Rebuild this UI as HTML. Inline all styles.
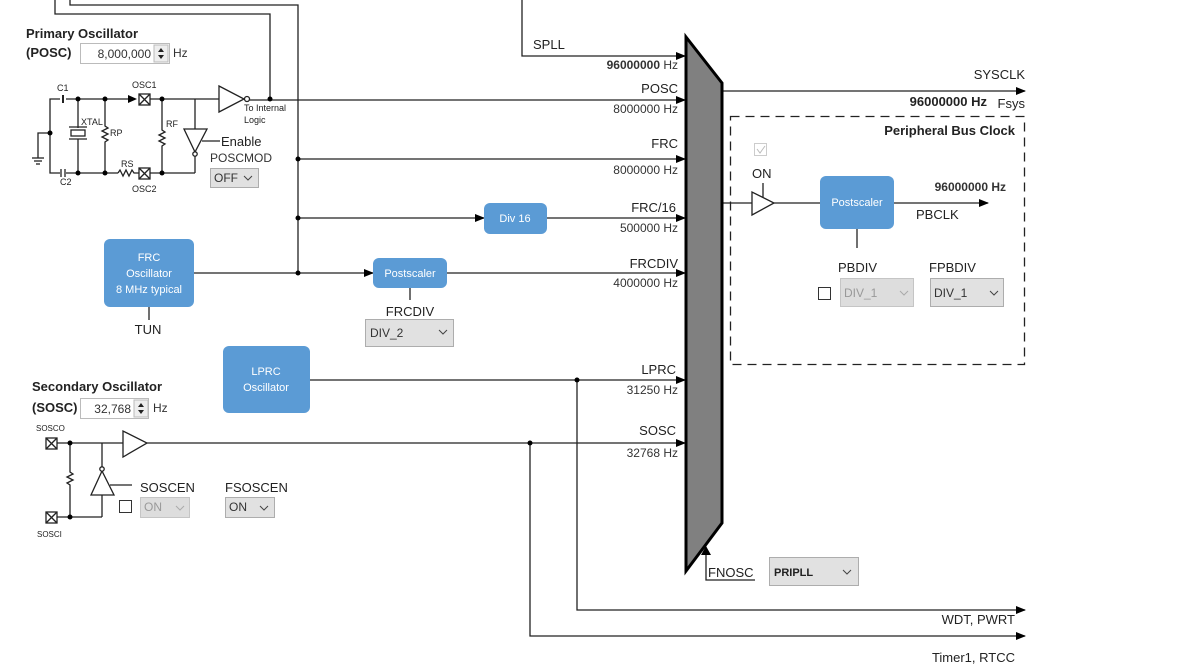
<!DOCTYPE html>
<html><head><meta charset="utf-8"><style>
html,body{margin:0;padding:0;background:#fff;}
svg{display:block;font-family:"Liberation Sans",sans-serif;}
.t{font-size:13px;fill:#222;}
.s{font-size:12px;fill:#333;}
.xs{font-size:9px;fill:#222;}
.b{font-weight:bold;}
.w{fill:#fff;font-size:11px;}
</style></head><body>
<svg width="1200" height="669" viewBox="0 0 1200 669">
<defs>
<marker id="a" markerWidth="10" markerHeight="8" refX="9" refY="4" orient="auto" markerUnits="userSpaceOnUse"><path d="M0,0 L10,4 L0,8z" fill="#000"/></marker>
</defs>
<g stroke="#222" stroke-width="1.3" fill="none">
<!-- top wires -->
<polyline points="55,0 55,14 270,14 270,99"/>
<polyline points="70,0 70,5 298,5 298,273"/>
<polyline points="522,0 522,56 685,56" marker-end="url(#a)"/>
<line x1="246" y1="100" x2="685" y2="100" marker-end="url(#a)"/>
<line x1="298" y1="159" x2="685" y2="159" marker-end="url(#a)"/>
<line x1="298" y1="218" x2="484" y2="218" marker-end="url(#a)"/>
<line x1="547" y1="218" x2="685" y2="218" marker-end="url(#a)"/>
<line x1="194" y1="273" x2="373" y2="273" marker-end="url(#a)"/>
<line x1="447" y1="273" x2="685" y2="273" marker-end="url(#a)"/>
<line x1="310" y1="380" x2="685" y2="380" marker-end="url(#a)"/>
<line x1="147" y1="443" x2="685" y2="443" marker-end="url(#a)"/>
<polyline points="577,380 577,610 1025,610" marker-end="url(#a)"/>
<polyline points="530,443 530,636 1025,636" marker-end="url(#a)"/>
<line x1="722" y1="91" x2="1025" y2="91" marker-end="url(#a)"/>
<line x1="149" y1="307" x2="149" y2="320"/>
<line x1="410" y1="288" x2="410" y2="300"/>
<polyline points="706,555 706,580 755,580"/>
<!-- primary osc circuit -->
<polyline points="60,99 50,99 50,173 60,173"/>
<line x1="66" y1="99" x2="132" y2="99"/>
<line x1="66" y1="173" x2="118" y2="173"/>
<polyline points="50,133 38,133 38,158"/>
<line x1="32" y1="158" x2="44" y2="158"/><line x1="34" y1="161" x2="42" y2="161"/><line x1="36" y1="164" x2="40" y2="164"/>
<line x1="78" y1="99" x2="78" y2="128"/><line x1="78" y1="139" x2="78" y2="173"/>
<rect x="71" y="130" width="14" height="6"/>
<line x1="69" y1="127" x2="87" y2="127"/><line x1="69" y1="139" x2="87" y2="139"/>
<polyline points="105,99 105,126 108,128 102,131 108,134 102,137 108,140 105,142 105,173"/>
<polyline points="118,173 120,170 123,176 126,170 129,176 132,170 134,173 139,173"/>
<line x1="150" y1="99" x2="219" y2="99"/>
<line x1="150" y1="173" x2="195" y2="173"/>
<polyline points="162,99 162,130 165,132 159,135 165,138 159,141 165,144 162,146 162,173"/>
<line x1="195" y1="99" x2="195" y2="129"/><line x1="195" y1="156" x2="195" y2="173"/>
<polygon points="184,129 207,129 195,152"/>
<line x1="202" y1="141" x2="220" y2="141"/>
<polygon points="219,86 219,112 244,99"/>
<circle cx="247" cy="99" r="2.5" fill="#fff"/>
<circle cx="195" cy="154" r="2.2" fill="#fff"/>
<rect x="139" y="94" width="11" height="11"/><line x1="139" y1="94" x2="150" y2="105"/><line x1="150" y1="94" x2="139" y2="105"/>
<rect x="139" y="168" width="11" height="11"/><line x1="139" y1="168" x2="150" y2="179"/><line x1="150" y1="168" x2="139" y2="179"/>
<line x1="63" y1="95" x2="63" y2="103" stroke-width="2"/>
<line x1="61" y1="169" x2="61" y2="177"/><line x1="65" y1="169" x2="65" y2="177"/>
<!-- secondary osc circuit -->
<rect x="46" y="438" width="11" height="11"/><line x1="46" y1="438" x2="57" y2="449"/><line x1="57" y1="438" x2="46" y2="449"/>
<rect x="46" y="512" width="11" height="11"/><line x1="46" y1="512" x2="57" y2="523"/><line x1="57" y1="512" x2="46" y2="523"/>
<line x1="57" y1="443" x2="123" y2="443"/>
<polygon points="123,431 123,457 147,443" fill="#fff"/>
<polyline points="70,443 70,472 73,474 67,477 73,480 67,483 70,485 70,517"/>
<line x1="57" y1="517" x2="102" y2="517"/>
<polyline points="102,443 102,467"/>
<polygon points="102,471 91,495 114,495" fill="#fff"/>
<circle cx="102" cy="469" r="2.2" fill="#fff"/>
<line x1="102" y1="495" x2="102" y2="517"/>
<line x1="110" y1="485" x2="132" y2="485"/>
<!-- PB clock -->
<rect x="730.5" y="116.5" width="294" height="248" stroke-dasharray="9,6"/>
<line x1="722" y1="203" x2="752" y2="203"/>
<polygon points="752,192 752,215 774,203" fill="#fff"/>
<line x1="763" y1="183" x2="763" y2="197"/>
<line x1="774" y1="203" x2="820" y2="203"/>
<line x1="894" y1="203" x2="988" y2="203" marker-end="url(#a)"/>
<line x1="857" y1="229" x2="857" y2="248"/>
</g>
<!-- junctions -->
<g fill="#000">
<circle cx="50" cy="133" r="2.5"/><circle cx="78" cy="99" r="2.5"/><circle cx="105" cy="99" r="2.5"/>
<circle cx="78" cy="173" r="2.5"/><circle cx="105" cy="173" r="2.5"/><circle cx="162" cy="99" r="2.5"/><circle cx="162" cy="173" r="2.5"/>
<circle cx="270" cy="99" r="2.5"/><circle cx="298" cy="159" r="2.5"/><circle cx="298" cy="218" r="2.5"/><circle cx="298" cy="273" r="2.5"/>
<circle cx="577" cy="380" r="2.5"/><circle cx="530" cy="443" r="2.5"/><circle cx="70" cy="443" r="2.5"/><circle cx="70" cy="517" r="2.5"/>
<path d="M128,95 L137,99 L128,103z"/>
<path d="M701,555 L706,546 L711,555z"/>
</g>
<!-- mux -->
<polygon points="686,37 722,83 722,523 686,571" fill="#808080" stroke="#000" stroke-width="3"/>
<!-- blue boxes -->
<g fill="#5b9bd5">
<rect x="104" y="239" width="90" height="68" rx="6"/>
<rect x="373" y="258" width="74" height="30" rx="6"/>
<rect x="484" y="203" width="63" height="31" rx="6"/>
<rect x="223" y="346" width="87" height="67" rx="6"/>
<rect x="820" y="176" width="74" height="53" rx="6"/>
</g>
<g text-anchor="middle" class="w">
<text x="149" y="261" font-size="11" fill="#fff">FRC</text>
<text x="149" y="277" fill="#fff">Oscillator</text>
<text x="149" y="293" fill="#fff">8 MHz typical</text>
<text x="410" y="277" fill="#fff">Postscaler</text>
<text x="515" y="222" fill="#fff">Div 16</text>
<text x="266" y="375" fill="#fff">LPRC</text>
<text x="266" y="391" fill="#fff">Oscillator</text>
<text x="857" y="206" fill="#fff">Postscaler</text>
</g>
<!-- labels -->
<text x="26" y="38" class="t b">Primary Oscillator</text>
<text x="26" y="57" class="t b">(POSC)</text>
<rect x="80.5" y="43.5" width="89" height="20" fill="#fff" stroke="#bbb"/>
<text x="151" y="58" class="s" text-anchor="end">8,000,000</text>
<rect x="154" y="45" width="14" height="17" fill="#eee" stroke="#bbb"/>
<path d="M158,52 L161,48 L164,52z M158,55 L161,59 L164,55z" fill="#222"/>
<text x="173" y="57" class="s">Hz</text>
<text x="57" y="91" class="xs">C1</text>
<text x="132" y="88" class="xs">OSC1</text>
<text x="81" y="125" class="xs">XTAL</text>
<text x="110" y="136" class="xs">RP</text>
<text x="166" y="127" class="xs">RF</text>
<text x="121" y="167" class="xs">RS</text>
<text x="60" y="185" class="xs">C2</text>
<text x="132" y="192" class="xs">OSC2</text>
<text x="244" y="111" class="xs">To Internal</text>
<text x="244" y="123" class="xs">Logic</text>
<text x="221" y="146" class="t" font-size="14">Enable</text>
<text x="210" y="162" class="s">POSCMOD</text>
<rect x="210.5" y="168.5" width="48" height="19" fill="#e1e1e1" stroke="#adadad"/>
<text x="214" y="182" class="s">OFF</text>
<path d="M244,176 L248,180 L252,176" stroke="#444" fill="none"/>
<text x="148" y="334" class="t" text-anchor="middle">TUN</text>
<text x="410" y="316" class="t" text-anchor="middle">FRCDIV</text>
<rect x="365.5" y="319.5" width="88" height="27" fill="#e1e1e1" stroke="#adadad"/>
<text x="370" y="337" class="s">DIV_2</text>
<path d="M439,330 L443,334 L447,330" stroke="#444" fill="none"/>
<text x="32" y="391" class="t b">Secondary Oscillator</text>
<text x="32" y="412" class="t b">(SOSC)</text>
<rect x="80.5" y="398.5" width="68" height="20" fill="#fff" stroke="#bbb"/>
<text x="131" y="413" class="s" text-anchor="end">32,768</text>
<rect x="134" y="400" width="14" height="17" fill="#eee" stroke="#bbb"/>
<path d="M138,407 L141,403 L144,407z M138,410 L141,414 L144,410z" fill="#222"/>
<text x="153" y="412" class="s">Hz</text>
<text x="36" y="431" font-size="8" fill="#222">SOSCO</text>
<text x="37" y="537" font-size="8" fill="#222">SOSCI</text>
<text x="140" y="492" class="t">SOSCEN</text>
<text x="225" y="492" class="t">FSOSCEN</text>
<rect x="119.5" y="500.5" width="12" height="12" fill="#fff" stroke="#333"/>
<rect x="140.5" y="497.5" width="49" height="20" fill="#ddd" stroke="#c5c5c5"/>
<text x="144" y="511" class="s" fill="#999" style="fill:#999">ON</text>
<path d="M176,506 L180,510 L184,506" stroke="#aaa" fill="none"/>
<rect x="225.5" y="497.5" width="49" height="20" fill="#e1e1e1" stroke="#adadad"/>
<text x="229" y="511" class="s">ON</text>
<path d="M260,506 L264,510 L268,506" stroke="#444" fill="none"/>
<!-- mux input labels -->
<text x="533" y="49" class="t">SPLL</text>
<g text-anchor="end">
<text x="678" y="69" class="s"><tspan font-weight="bold">96000000</tspan> Hz</text>
<text x="678" y="93" class="t">POSC</text>
<text x="678" y="113" class="s">8000000 Hz</text>
<text x="678" y="148" class="t">FRC</text>
<text x="678" y="174" class="s">8000000 Hz</text>
<text x="676" y="212" class="t">FRC/16</text>
<text x="678" y="232" class="s">500000 Hz</text>
<text x="678" y="268" class="t">FRCDIV</text>
<text x="678" y="287" class="s">4000000 Hz</text>
<text x="676" y="374" class="t">LPRC</text>
<text x="678" y="394" class="s">31250 Hz</text>
<text x="676" y="435" class="t">SOSC</text>
<text x="678" y="457" class="s">32768 Hz</text>
<text x="1025" y="79" class="t">SYSCLK</text>
<text x="987" y="106" class="t b">96000000 Hz</text>
<text x="1025" y="108" class="t">Fsys</text>
<text x="1015" y="135" class="t b" font-size="14">Peripheral Bus Clock</text>
<text x="1006" y="191" class="s b">96000000 Hz</text>
<text x="1015" y="624" class="t">WDT, PWRT</text>
<text x="1015" y="662" class="t">Timer1, RTCC</text>
</g>
<rect x="754.5" y="143.5" width="12" height="12" fill="#fff" stroke="#ccc"/>
<path d="M757,149 L760,153 L765,146" stroke="#bbb" fill="none"/>
<text x="752" y="178" class="t">ON</text>
<text x="916" y="219" class="t">PBCLK</text>
<text x="838" y="272" class="t">PBDIV</text>
<text x="929" y="272" class="t">FPBDIV</text>
<rect x="818.5" y="287.5" width="12" height="12" fill="#fff" stroke="#333"/>
<rect x="840.5" y="278.5" width="73" height="28" fill="#ddd" stroke="#c5c5c5"/>
<text x="844" y="297" class="s" style="fill:#999">DIV_1</text>
<path d="M900,291 L904,295 L908,291" stroke="#aaa" fill="none"/>
<rect x="930.5" y="278.5" width="73" height="28" fill="#e1e1e1" stroke="#adadad"/>
<text x="934" y="297" class="s">DIV_1</text>
<path d="M990,291 L994,295 L998,291" stroke="#444" fill="none"/>
<text x="708" y="577" class="t" font-size="15">FNOSC</text>
<rect x="769.5" y="557.5" width="89" height="28" fill="#e1e1e1" stroke="#adadad"/>
<text x="774" y="576" font-size="11" font-weight="bold" fill="#222">PRIPLL</text>
<path d="M843,570 L847,574 L851,570" stroke="#444" fill="none"/>
</svg>
</body></html>
